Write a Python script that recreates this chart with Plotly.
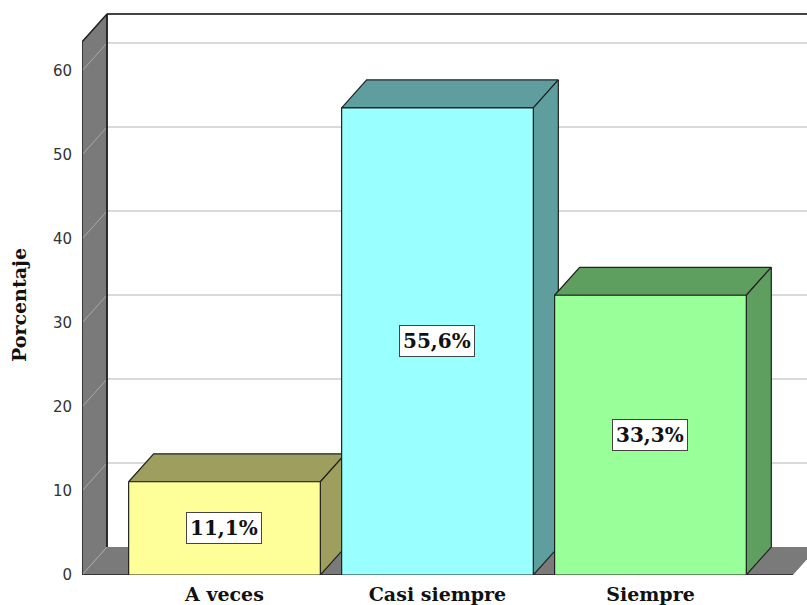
import plotly.graph_objects as go

# Data
categories = ["A veces", "Casi siempre", "Siempre"]
percentages = [11.1, 55.6, 33.3]
y_ticks = [0, 10, 20, 30, 40, 50, 60]

front_colors = ["#FFFF99", "#99FFFF", "#99FF99"]
shade_colors = ["#9E9E5E", "#5E9E9E", "#5E9E5E"]

# 3D geometry (axis units)
BAR_W = 0.9
DX, DY = 0.1174, 3.33          # depth offset of the back plane
X_LEFT, X_RIGHT = -0.669, 2.735
FLOOR_RIGHT = 2.669
WALL_TOP = 63.45
Y_TOP = 66.9

EDGE = "#222222"
WALL = "#7A7A7A"
GRID = "#CCCCCC"

fig = go.Figure()


def poly(xs, ys, fill, line_color=None, width=1.0):
    fig.add_trace(go.Scatter(
        x=xs + [xs[0]], y=ys + [ys[0]], mode="lines", fill="toself",
        fillcolor=fill,
        line=dict(color=line_color or fill, width=width if line_color else 0),
        hoverinfo="skip", showlegend=False))


def lines(xs, ys, color, width):
    fig.add_trace(go.Scatter(
        x=xs, y=ys, mode="lines", line=dict(color=color, width=width),
        hoverinfo="skip", showlegend=False))


# back-wall gridlines
gx, gy = [], []
for v in y_ticks[1:]:
    gx += [X_LEFT + DX, X_RIGHT + 0.2, None]
    gy += [v + DY, v + DY, None]
lines(gx, gy, GRID, 1.6)

# back wall top edge
lines([X_LEFT + DX, X_RIGHT + 0.2], [WALL_TOP + DY, WALL_TOP + DY], "#444444", 2)

# left wall
poly([X_LEFT, X_LEFT, X_LEFT + DX, X_LEFT + DX],
     [0, WALL_TOP, WALL_TOP + DY, DY], WALL)

# floor
poly([X_LEFT, FLOOR_RIGHT, FLOOR_RIGHT + DX, X_LEFT + DX],
     [0, 0, DY, DY], WALL)

# gridlines running across the left wall
wx, wy = [], []
for v in y_ticks:
    wx += [X_LEFT, X_LEFT + DX, None]
    wy += [v, v + DY, None]
lines(wx, wy, "#A8A8A8", 1)

# wall and floor edges
lines([X_LEFT + DX, X_LEFT + DX, X_LEFT, X_LEFT, FLOOR_RIGHT],
      [DY, WALL_TOP + DY, WALL_TOP, 0, 0], EDGE, 1.5)
lines([X_LEFT + DX, X_LEFT + DX], [DY, WALL_TOP + DY], EDGE, 1.5)

# bars: front, top and side faces
for i, (v, fc, sc) in enumerate(zip(percentages, front_colors, shade_colors)):
    x0, x1 = i - BAR_W / 2, i + BAR_W / 2
    poly([x0, x1, x1 + DX, x0 + DX], [v, v, v + DY, v + DY], sc, EDGE, 1.2)
    poly([x1, x1 + DX, x1 + DX, x1], [0, DY, v + DY, v], sc, EDGE, 1.2)
    poly([x0, x1, x1, x0], [0, 0, v, v], fc, EDGE, 1.2)

annotations = []
for i, v in enumerate(percentages):
    annotations.append(dict(
        x=i, y=v / 2, xref="x", yref="y", showarrow=False,
        text=f"{v:.1f}%".replace(".", ","),
        font=dict(family="DejaVu Serif", size=20, color="#111111", weight="bold"),
        bgcolor="#FFFFFF", bordercolor="#444444", borderwidth=1, borderpad=3))

annotations.append(dict(
    x=0, y=(575 - 305) / 562, xref="paper", yref="paper", xshift=-63,
    xanchor="center", yanchor="middle",
    showarrow=False, textangle=-90, text="Porcentaje",
    font=dict(family="DejaVu Serif", size=19, color="#111111", weight="bold")))

fig.update_layout(
    width=807, height=605,
    margin=dict(l=82, r=0, t=13, b=30),
    paper_bgcolor="#FFFFFF", plot_bgcolor="#FFFFFF",
    showlegend=False,
    annotations=annotations,
    xaxis=dict(
        range=[X_LEFT, X_RIGHT], tickvals=list(range(len(categories))),
        ticktext=categories, showgrid=False, zeroline=False, showline=False,
        ticks="outside", ticklen=2, tickcolor="rgba(0,0,0,0)",
        tickfont=dict(family="DejaVu Serif", size=19, color="#111111", weight="bold")),
    yaxis=dict(
        range=[0, Y_TOP], tickvals=y_ticks, showgrid=False, zeroline=False,
        showline=False, ticks="outside", ticklen=6, tickcolor="rgba(0,0,0,0)",
        tickfont=dict(family="DejaVu Sans", size=15, color="#333333")),
)

fig.write_html("out.html")
